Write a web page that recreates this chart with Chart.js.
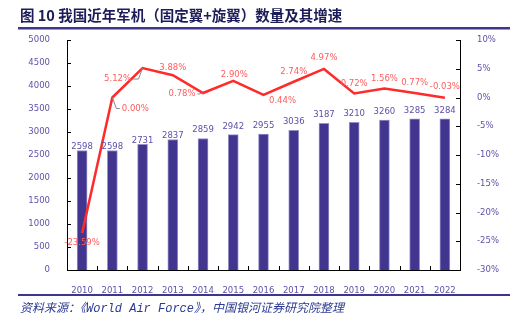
<!DOCTYPE html>
<html>
<head>
<meta charset="utf-8">
<script src="https://cdn.jsdelivr.net/npm/chart.js@4/dist/chart.umd.min.js"></script>
<style>
    body { margin: 0; background: #fff; }
    canvas { display: block; }
</style>
</head>
<body>
<canvas id="fleetChart" width="520" height="330"></canvas>
<script>
const years = ["2010", "2011", "2012", "2013", "2014", "2015", "2016", "2017", "2018", "2019", "2020", "2021", "2022"];
const aircraftCount = [2598, 2598, 2731, 2837, 2859, 2942, 2955, 3036, 3187, 3210, 3260, 3285, 3284];
const growthRate = [-23.59, 0.00, 5.12, 3.88, 0.78, 2.90, 0.44, 2.74, 4.97, 0.72, 1.56, 0.77, -0.03];
const countTicks = [0, 500, 1000, 1500, 2000, 2500, 3000, 3500, 4000, 4500, 5000];
const rateTicks = [-30, -25, -20, -15, -10, -5, 0, 5, 10];

// label placement tweaks (relative to the point), kept apart from the data
const rateLabelDx = [0, 23, -25, 0, -21, 1, 19, 0, 0, 0, 0, 0, 0];
const rateLabelDy = [10, 11, 11, -7, 1, -6, 6, -10, -11, -10, -10, -10, -11];
const rateLabelLeader = [false, true, true, false, true, false, false, false, false, false, false, false, false];
const countLabelGap = [-1, -1, -1, -1, 4, 4, 4, 4, 4, 4, 4, 4, 4];

const titleText = "图 10 我国近年军机（固定翼+旋翼）数量及其增速";
const sourceText = "资料来源：《World Air Force》，中国银河证券研究院整理";

const tickColor = "#5d52a8";
const labelFont = "8.5px 'DejaVu Sans'";

const decorPlugin = {
    id: "decor",
    afterDatasetsDraw(chart) {
        const ctx = chart.ctx;
        const barMeta = chart.getDatasetMeta(0);
        const lineMeta = chart.getDatasetMeta(1);
        ctx.save();
        ctx.font = labelFont;
        ctx.textAlign = "center";
        ctx.textBaseline = "bottom";
        ctx.fillStyle = "#5b50a8";
        barMeta.data.forEach((bar, i) => {
            ctx.fillText(aircraftCount[i].toString(), bar.x, bar.y - countLabelGap[i]);
        });

        ctx.textBaseline = "middle";
        lineMeta.data.forEach((pt, i) => {
            const text = growthRate[i].toFixed(2) + "%";
            const lx = pt.x + rateLabelDx[i];
            const ly = pt.y + rateLabelDy[i];
            const w = ctx.measureText(text).width;
            if (rateLabelLeader[i]) {
                ctx.strokeStyle = "#8a8a8a";
                ctx.lineWidth = 1;
                ctx.beginPath();
                ctx.moveTo(pt.x, pt.y);
                if (rateLabelDx[i] > 0) {
                    ctx.lineTo(pt.x + 4, ly);
                    ctx.lineTo(lx - w / 2 - 2, ly);
                } else {
                    ctx.lineTo(pt.x - 4, ly);
                    ctx.lineTo(lx + w / 2 + 2, ly);
                }
                ctx.stroke();
            }
            ctx.fillStyle = "#ff5c5c";
            ctx.fillText(text, lx, ly);
        });
        ctx.restore();
    },
    afterDraw(chart) {
        const ctx = chart.ctx;
        const area = chart.chartArea;
        const xs = chart.scales.x;
        const ys = chart.scales.y;
        const y1 = chart.scales.y1;
        ctx.save();

        // inward tick marks
        ctx.strokeStyle = "#000";
        ctx.lineWidth = 1;
        ctx.beginPath();
        countTicks.forEach(v => {
            const y = Math.round(ys.getPixelForValue(v)) + 0.5;
            ctx.moveTo(area.left, y);
            ctx.lineTo(area.left + 4, y);
        });
        rateTicks.forEach(v => {
            const y = Math.round(y1.getPixelForValue(v)) + 0.5;
            ctx.moveTo(area.right, y);
            ctx.lineTo(area.right - 4, y);
        });
        for (let i = 1; i < years.length; i++) {
            const x = Math.round((xs.getPixelForValue(i - 1) + xs.getPixelForValue(i)) / 2) + 0.5;
            ctx.moveTo(x, area.bottom);
            ctx.lineTo(x, area.bottom - 4);
        }
        ctx.stroke();

        // title
        ctx.fillStyle = "#1c1c58";
        ctx.font = "bold 14.5px 'Noto Sans CJK SC'";
        ctx.textAlign = "left";
        ctx.textBaseline = "middle";
        ctx.fillText(titleText, 20, 15);

        // rules
        ctx.fillStyle = "#3d3590";
        ctx.fillRect(18, 27, 492, 2.5);
        ctx.fillRect(18, 294, 492, 2);

        // source
        ctx.fillStyle = "#2b3a90";
        ctx.font = "italic 12px 'Liberation Mono', 'Noto Sans CJK SC'";
        ctx.fillText(sourceText, 20, 309);
        ctx.restore();
    }
};

new Chart(document.getElementById("fleetChart"), {
    type: "bar",
    data: {
        labels: years,
        datasets: [{
            type: "bar",
            label: "军机数量",
            data: aircraftCount,
            yAxisID: "y",
            backgroundColor: "#41358f",
            borderColor: "#9690c8",
            borderWidth: 1,
            barThickness: 10,
            order: 1
        }, {
            type: "line",
            label: "增速",
            data: growthRate,
            yAxisID: "y1",
            borderColor: "#ff2b2b",
            borderWidth: 2.5,
            pointRadius: 0,
            tension: 0,
            order: 0
        }]
    },
    options: {
        responsive: false,
        animation: false,
        layout: { padding: { top: 40, left: 0, right: 0, bottom: 0 } },
        plugins: {
            legend: { display: false },
            tooltip: { enabled: false }
        },
        scales: {
            x: {
                grid: { display: false },
                border: { display: true, color: "#000", width: 1 },
                ticks: {
                    color: tickColor,
                    font: { family: "DejaVu Sans", size: 8.5 },
                    padding: 8,
                    maxRotation: 0
                },
                afterFit(scale) { scale.height = 60; }
            },
            y: {
                position: "left",
                min: 0,
                max: 5000,
                grid: { display: false },
                border: { display: true, color: "#000", width: 1 },
                ticks: {
                    stepSize: 500,
                    color: tickColor,
                    font: { family: "DejaVu Sans", size: 8.5 },
                    padding: 9,
                    callback: v => String(v)
                },
                afterFit(scale) { scale.width = 67; }
            },
            y1: {
                position: "right",
                min: -30,
                max: 10,
                grid: { display: false },
                border: { display: true, color: "#000", width: 1 },
                ticks: {
                    stepSize: 5,
                    color: tickColor,
                    font: { family: "DejaVu Sans", size: 8.5 },
                    padding: 9,
                    callback: v => v + "%"
                },
                afterFit(scale) { scale.width = 60; }
            }
        }
    },
    plugins: [decorPlugin]
});
</script>
</body>
</html>
